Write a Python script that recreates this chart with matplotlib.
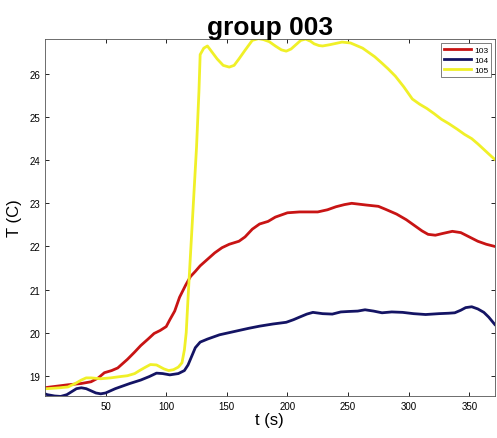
import numpy as np
import matplotlib.pyplot as plt

plt.rcParams['font.family'] = ['Liberation Sans', 'DejaVu Sans']

# curve 103 (red)
t_103 = [0, 2, 19, 30, 38, 44, 49, 55, 60, 68, 74, 79, 85, 90, 95, 100, 103, 107, 111,
         116, 120, 124, 128, 134, 140, 146, 152, 160, 165, 171, 177, 184, 190, 200, 210,
         225, 233, 240, 247, 253, 265, 275, 281, 290, 298, 305, 311, 316, 322, 328, 336,
         343, 350, 357, 364, 371]
T_103 = [18.72, 18.73, 18.79, 18.82, 18.86, 18.95, 19.07, 19.12, 19.18, 19.38, 19.55,
         19.7, 19.85, 19.98, 20.05, 20.14, 20.3, 20.5, 20.82, 21.1, 21.3, 21.42, 21.55,
         21.7, 21.85, 21.97, 22.05, 22.12, 22.22, 22.4, 22.52, 22.58, 22.68, 22.78, 22.8,
         22.8, 22.85, 22.92, 22.97, 23.0, 22.96, 22.93, 22.86, 22.75, 22.62, 22.48, 22.36,
         22.28, 22.26, 22.3, 22.35, 22.32, 22.22, 22.12, 22.05, 22.0]

# curve 104 (blue)
t_104 = [0, 2, 8, 13, 18, 22, 26, 30, 34, 38, 42, 46, 50, 54, 58, 62, 70, 79, 86, 92,
         97, 103, 110, 115, 118, 121, 124, 128, 134, 144, 152, 160, 168, 177, 188, 199,
         205, 210, 216, 221, 229, 237, 244, 250, 258, 264, 271, 278, 286, 295, 304, 314,
         325, 333, 338, 343, 347, 352, 357, 362, 366, 371]
T_104 = [18.58, 18.56, 18.53, 18.52, 18.56, 18.63, 18.7, 18.72, 18.7, 18.65, 18.6,
         18.58, 18.6, 18.65, 18.7, 18.74, 18.82, 18.9, 18.98, 19.06, 19.05, 19.02, 19.05,
         19.12, 19.25, 19.45, 19.65, 19.78, 19.85, 19.95, 20.0, 20.05, 20.1, 20.15, 20.2,
         20.24, 20.3, 20.36, 20.43, 20.47, 20.44, 20.43, 20.48, 20.49, 20.5, 20.53, 20.5,
         20.46, 20.48, 20.47, 20.44, 20.42, 20.44, 20.45, 20.46, 20.52, 20.58, 20.6, 20.55,
         20.47, 20.36, 20.19]

# curve 105 (yellow)
t_105 = [0, 2, 12, 19, 25, 30, 34, 38, 46, 54, 62, 68, 74, 78, 83, 87, 92, 98, 102,
         106, 110, 113, 115, 116.5, 118, 120, 122, 125, 127, 128, 131, 134, 138, 142,
         147, 152, 156, 160, 165, 171, 176, 180, 185, 190, 195, 199, 203, 207, 211, 215,
         219, 222, 226, 229, 235, 245, 252, 257, 262, 267, 272, 278, 283, 289, 296, 303,
         309, 315, 321, 327, 333, 340, 346, 352, 357, 362, 367, 371]
T_105 = [18.7, 18.7, 18.72, 18.74, 18.82, 18.9, 18.95, 18.95, 18.93, 18.95, 18.98, 19.0,
         19.05, 19.12, 19.2, 19.26, 19.25, 19.16, 19.12, 19.14, 19.2, 19.3, 19.6, 20.0,
         20.8, 21.8, 22.8, 24.3, 25.6, 26.45, 26.6, 26.65, 26.5, 26.35, 26.2, 26.16,
         26.2, 26.35, 26.55, 26.78, 26.82, 26.8, 26.75, 26.65, 26.56, 26.53, 26.58, 26.68,
         26.78, 26.81, 26.76, 26.7, 26.66, 26.65, 26.68, 26.74, 26.72, 26.66, 26.6, 26.5,
         26.4, 26.25, 26.12, 25.95, 25.7, 25.42, 25.3, 25.2, 25.08, 24.95, 24.85, 24.72,
         24.6, 24.5, 24.38, 24.25, 24.12, 24.02]

labels = ['103', '104', '105']
colors = ['#c81414', '#141464', '#f0f028']

fig = plt.figure(figsize=(4.97, 4.39), dpi=100)
ax = fig.add_axes([0.0905, 0.0957, 0.905, 0.813])

for t, T, lab, c in zip([t_103, t_104, t_105], [T_103, T_104, T_105], labels, colors):
    ax.plot(t, T, color=c, lw=2, label=lab)

ax.set_xlim(0, 371)
ax.set_ylim(18.53, 26.81)
ax.set_xticks([50, 100, 150, 200, 250, 300, 350])
ax.set_yticks([19, 20, 21, 22, 23, 24, 25, 26])
ax.tick_params(direction='in', labelsize=7, length=3, top=True, right=True, width=0.6)
for s in ax.spines.values():
    s.set_linewidth(0.6)
    s.set_color('#555555')

ax.set_title('group 003', fontsize=19, fontweight='bold', pad=4)
ax.set_xlabel('t (s)', fontsize=12, labelpad=1)
ax.set_ylabel('T (C)', fontsize=12, labelpad=5)

leg = ax.legend(loc='upper right', fontsize=6, handlelength=3.2, fancybox=False,
                borderpad=0.3, labelspacing=0.3, handletextpad=0.4, borderaxespad=0.5)
leg.get_frame().set_edgecolor('#444444')
leg.get_frame().set_linewidth(0.6)

fig.savefig('out.png', dpi=100)
